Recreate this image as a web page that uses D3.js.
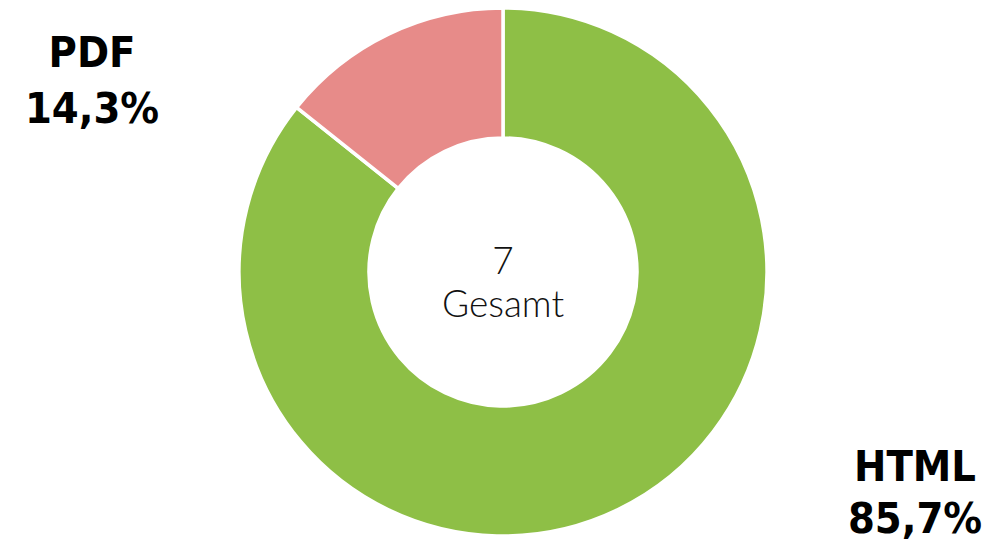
<!DOCTYPE html>
<html>
<head>
<meta charset="utf-8">
<script src="https://cdn.jsdelivr.net/npm/d3@7"></script>
<style>
  body { margin: 0; background: #fff; }
</style>
</head>
<body>
<div id="chart"></div>
<script>
const categories = ["HTML", "PDF"];
const counts = [6, 1];
const percentLabels = ["85,7%", "14,3%"];
const totalLabel = "Gesamt";

const width = 1005;
const height = 544;
const colors = ["#8ebf46", "#e78b89"];

const svg = d3.select("#chart")
    .append("svg")
    .attr("width", width)
    .attr("height", height);

const cx = 503, cy = 272;
const outerR = 264, innerR = 134;

const pie = d3.pie().sort(null).value(d => d);
const arc = d3.arc().innerRadius(innerR).outerRadius(outerR);

const g = svg.append("g").attr("transform", `translate(${cx},${cy})`);

g.selectAll("path")
    .data(pie(counts))
    .join("path")
    .attr("d", arc)
    .attr("fill", (d, i) => colors[i])
    .attr("stroke", "#fff")
    .attr("stroke-width", 3.5);

// center text
const total = d3.sum(counts);
g.append("text")
    .attr("text-anchor", "middle")
    .attr("y", 2)
    .attr("font-family", "Lato, 'Open Sans', sans-serif")
    .attr("font-weight", 300)
    .attr("font-size", 37)
    .attr("fill", "#111")
    .text(total);
g.append("text")
    .attr("text-anchor", "middle")
    .attr("y", 45)
    .attr("font-family", "Lato, 'Open Sans', sans-serif")
    .attr("font-weight", 300)
    .attr("font-size", 37)
    .attr("fill", "#111")
    .text(totalLabel);

// outside labels
const labelPos = [
    { x: 915, y1: 481, y2: 533 }, // HTML
    { x: 92, y1: 67, y2: 123 }    // PDF
];
categories.forEach((c, i) => {
    const t = svg.append("text")
        .attr("text-anchor", "middle")
        .attr("font-family", "'DejaVu Sans Condensed', 'DejaVu Sans', sans-serif")
        .attr("font-weight", "bold")
        .attr("font-size", 43)
        .attr("fill", "#000");
    t.append("tspan").attr("x", labelPos[i].x).attr("y", labelPos[i].y1).text(c);
    t.append("tspan").attr("x", labelPos[i].x).attr("y", labelPos[i].y2).text(percentLabels[i]);
});
</script>
</body>
</html>
